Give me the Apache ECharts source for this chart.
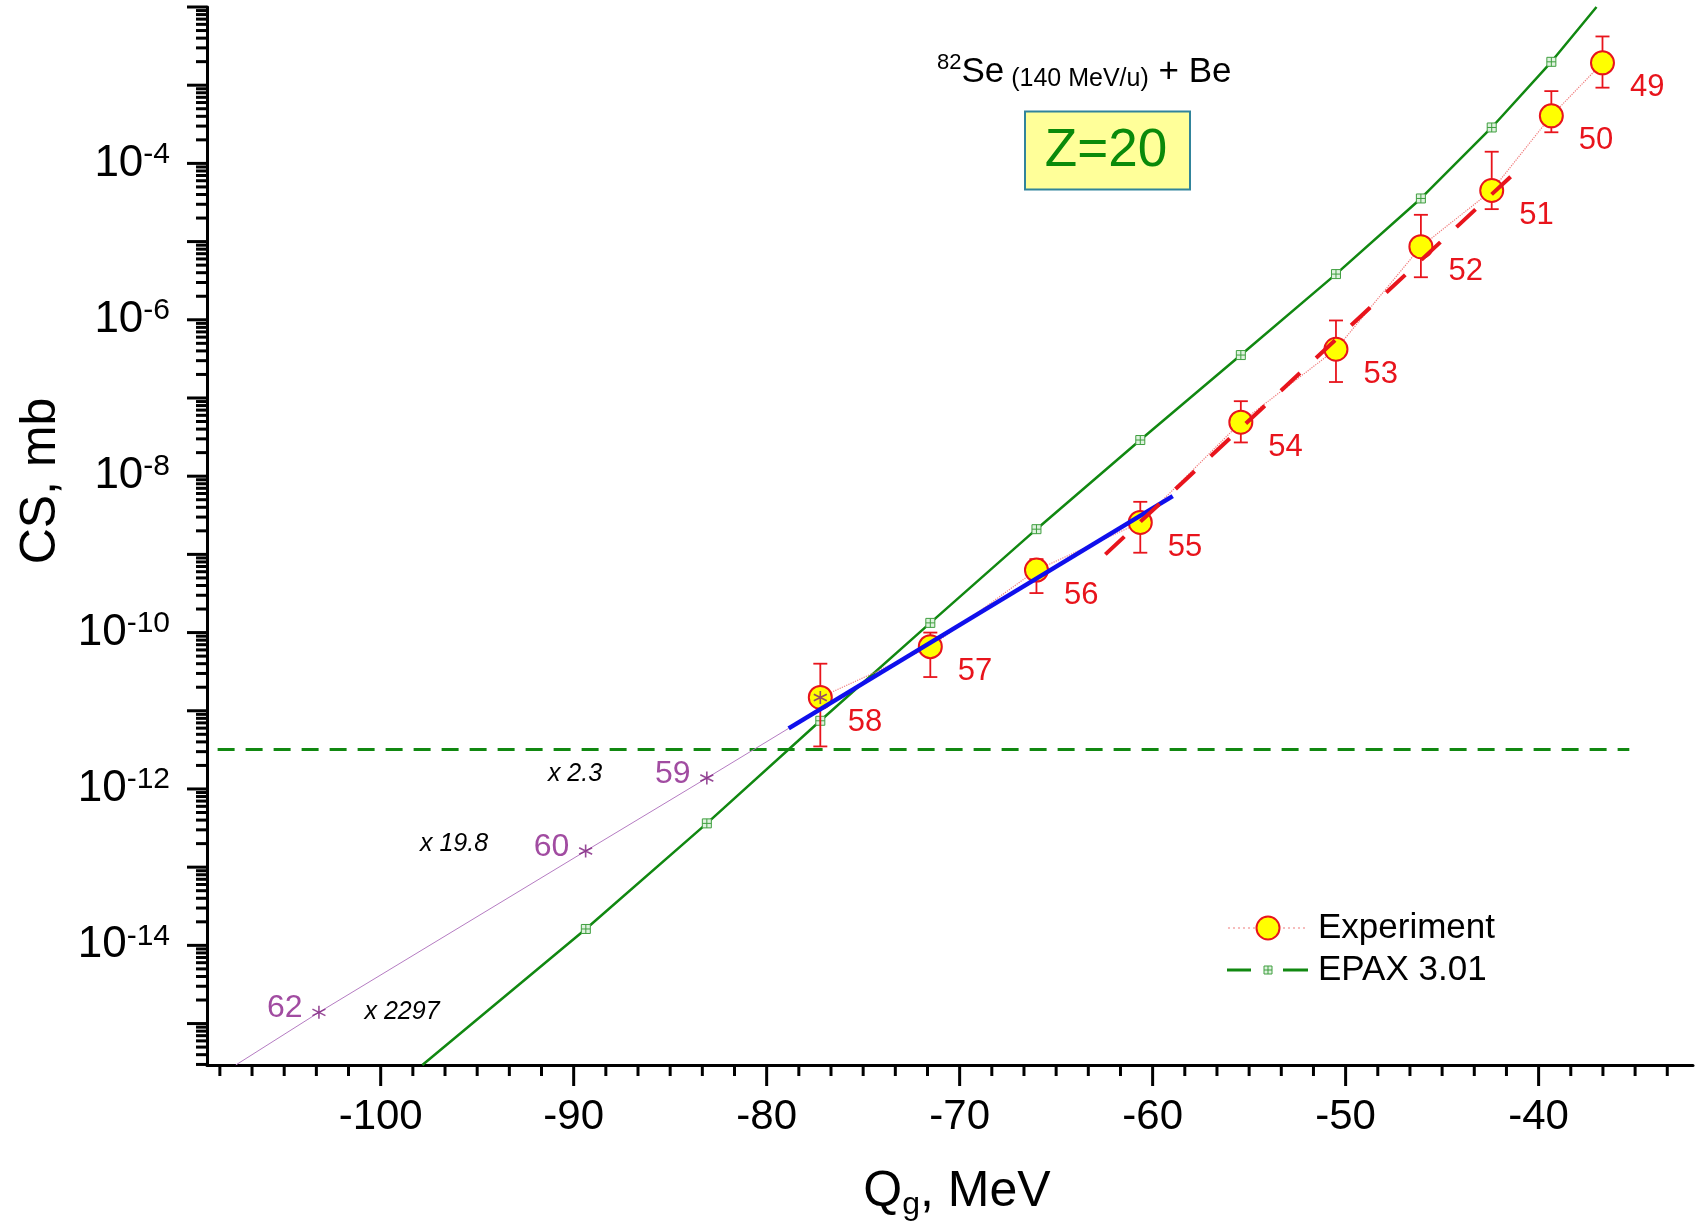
<!DOCTYPE html>
<html>
<head>
<meta charset="utf-8">
<style>
html,body{margin:0;padding:0;background:#fff;}
#chart{width:1696px;height:1232px;}
</style>
<script src="https://cdn.jsdelivr.net/npm/echarts@6/dist/echarts.min.js"></script>
</head>
<body>
<div id="chart"></div>
<script>
// ---- Ca isotopes (Z = 20) from 82Se (140 MeV/u) + Be ----
const massNumbers = [49, 50, 51, 52, 53, 54, 55, 56, 57, 58];
// Qg of each fragment, MeV
const qgExp   = [-36.69, -39.34, -42.43, -46.10, -50.50, -55.43, -60.64, -66.02, -71.52, -77.22];
// measured cross sections and their error limits, mb
const csExp   = [1.93e-3, 4.06e-4, 4.5e-5, 8.6e-6, 4.2e-7, 4.9e-8, 2.56e-9, 6.3e-10, 6.6e-11, 1.48e-11];
const csLow   = [9.3e-4, 2.5e-4, 2.6e-5, 3.5e-6, 1.6e-7, 2.7e-8, 1.05e-9, 3.2e-10, 2.7e-11, 3.5e-12];
const csHigh  = [4.2e-3, 8.4e-4, 1.41e-4, 2.2e-5, 9.8e-7, 9.1e-8, 4.7e-9, 8.7e-10, 1.0e-10, 4.0e-11];

// EPAX 3.01 curve (first and last entries are where it leaves the frame)
const qgEpax  = [-37.0, -39.34, -42.43, -46.10, -50.50, -55.43, -60.64, -66.02, -71.52, -77.22, -83.10, -89.37, -97.84];
const csEpax  = [1.0e-2, 1.99e-3, 2.88e-4, 3.56e-5, 3.84e-6, 3.54e-7, 2.90e-8, 2.10e-9, 1.33e-10, 7.45e-12, 3.63e-13, 1.62e-14, 2.95e-16];

// exponential fit of 55-58 (blue) and its extrapolation to lower Qg (purple)
const fitQg   = [-78.86, -58.96];
const fitCs   = [5.96e-12, 5.57e-9];
const extQg   = [-107.51, -103.2, -89.38, -83.10, -78.86];
const extCs   = [2.95e-16, 1.39e-15, 1.61e-13, 1.38e-12, 5.96e-12];
// extrapolated isotopes
const predMass = [58, 59, 60, 62];
const predQg   = [-77.22, -83.10, -89.38, -103.2];
const predCs   = [1.48e-11, 1.38e-12, 1.61e-13, 1.39e-15];
const predFactor = ['x 2.3', 'x 19.8', 'x 2297'];

// fit of the heavier part 49-55 (red dashed)
const fitRedQg = [-62.45, -40.62];
const fitRedCs = [1.0e-9, 1.05e-4];

// sensitivity limit
const limitQg = [-108.45, -35.3];
const limitCs = 3.2e-12;

// axis ticks
const xTickValues = [-100, -90, -80, -70, -60, -50, -40];
const xTickLabels = ['-100', '-90', '-80', '-70', '-60', '-50', '-40'];
const yLabelExponents = [-14, -12, -10, -8, -6, -4];

const FONT = '"Liberation Sans", Arial, Helvetica, sans-serif';
const X_MIN = -109, X_MAX = -32;
const Y_MIN = Math.pow(10, -15.53), Y_MAX = 1e-2;
const RED = '#e8141c', GREEN = '#118811', PURPLE = '#7d1d7d';
const EPAX_SYMBOL = 'path://M0,0H10V10H0Z M5,0V10 M0,5H10';
const STAR_SYMBOL = 'path://M5,0L5,10M0.67,2.5L9.33,7.5M0.67,7.5L9.33,2.5';

// tick tables: majors every 10 MeV, five minor ticks in between
const xTickData = [];
for (let i = 0; i <= 48; i++) {
  const v = -110 + i * 10 / 6;
  if (v <= X_MIN || v >= X_MAX) continue;
  xTickData.push([+v.toFixed(4), Y_MIN, i % 6 === 0 ? 1 : 0]);
}
const yTickData = [];
for (let e = -16; e <= -2; e++) {
  for (let m = 1; m <= 9; m++) {
    const lg = e + Math.log10(m);
    if (lg < -15.53 - 1e-9 || lg > -2 + 1e-9) continue;
    yTickData.push([X_MIN, m * Math.pow(10, e), m === 1 ? 1 : 0, e]);
  }
}

const chart = echarts.init(document.getElementById('chart'));

chart.setOption({
  animation: false,
  backgroundColor: '#fff',
  grid: { left: 207, right: 3, top: 7, bottom: 167, containLabel: false },
  xAxis: {
    type: 'value', min: X_MIN, max: X_MAX,
    axisLine: { show: true, onZero: false, lineStyle: { color: '#000', width: 3 } },
    axisTick: { show: false }, axisLabel: { show: false }, splitLine: { show: false }
  },
  yAxis: {
    type: 'log', logBase: 10, min: Y_MIN, max: Y_MAX,
    axisLine: { show: true, lineStyle: { color: '#000', width: 3 } },
    axisTick: { show: false }, axisLabel: { show: false }, splitLine: { show: false }
  },
  series: [
    {
      name: 'EPAX 3.01', type: 'line', z: 2,
      data: qgEpax.map((q, i) => ({
        value: [q, csEpax[i]],
        symbol: (i === 0 || i === qgEpax.length - 1) ? 'none' : EPAX_SYMBOL
      })),
      symbolSize: 9, showSymbol: true,
      lineStyle: { color: GREEN, width: 2.5 },
      itemStyle: { color: '#dff2df', borderColor: '#3f9f3f', borderWidth: 1 }
    },
    {
      name: 'limit', type: 'line', z: 2, symbol: 'none',
      data: limitQg.map(q => [q, limitCs]),
      lineStyle: { color: GREEN, width: 3, type: [17, 11] }
    },
    {
      name: 'extrapolation', type: 'line', z: 2, symbol: 'none',
      data: extQg.map((q, i) => [q, extCs[i]]),
      lineStyle: { color: '#b57cc2', width: 1 }
    },
    {
      name: 'errors', type: 'custom', z: 3, silent: true,
      data: qgExp.map((q, i) => [q, csLow[i], csHigh[i]]),
      encode: { x: 0, y: [1, 2] },
      renderItem: function (params, api) {
        const lo = api.coord([api.value(0), api.value(1)]);
        const hi = api.coord([api.value(0), api.value(2)]);
        const w = 7;
        const st = { stroke: RED, lineWidth: 1.8 };
        return {
          type: 'group', children: [
            { type: 'line', shape: { x1: lo[0], y1: lo[1], x2: hi[0], y2: hi[1] }, style: st },
            { type: 'line', shape: { x1: lo[0] - w, y1: lo[1], x2: lo[0] + w, y2: lo[1] }, style: st },
            { type: 'line', shape: { x1: hi[0] - w, y1: hi[1], x2: hi[0] + w, y2: hi[1] }, style: st }
          ]
        };
      }
    },
    {
      name: 'Experiment', type: 'line', z: 4,
      data: qgExp.map((q, i) => [q, csExp[i]]),
      symbol: 'circle', symbolSize: 23,
      lineStyle: { color: '#f07a7a', width: 1.2, type: 'dotted' },
      itemStyle: { color: '#ffff00', borderColor: RED, borderWidth: 2 },
      label: {
        show: true, position: 'right', distance: 15, offset: [0, 25],
        formatter: p => String(massNumbers[p.dataIndex]),
        color: RED, fontSize: 31, fontFamily: FONT
      }
    },
    {
      name: 'fit 55-58', type: 'line', z: 5, symbol: 'none',
      data: fitQg.map((q, i) => [q, fitCs[i]]),
      lineStyle: { color: '#0f0fec', width: 4.5 }
    },
    {
      name: 'fit 49-55', type: 'line', z: 5, symbol: 'none',
      data: fitRedQg.map((q, i) => [q, fitRedCs[i]]),
      lineStyle: { color: RED, width: 4, type: [26, 22] }
    },
    {
      name: 'predicted', type: 'scatter', z: 6,
      data: predQg.map((q, i) => ({
        value: [q, predCs[i]],
        label: { show: i > 0 }
      })),
      symbol: STAR_SYMBOL, symbolSize: 13,
      itemStyle: { color: 'rgba(0,0,0,0)', borderColor: PURPLE, borderWidth: 1.6 },
      label: {
        position: 'left', distance: 9, offset: [0, -4],
        formatter: p => String(predMass[p.dataIndex]),
        color: '#8a1f8a', fontSize: 32, fontFamily: FONT
      }
    },
    {
      name: 'xTicks', type: 'custom', z: 7, silent: true, clip: false,
      data: xTickData, encode: { x: 0, y: 1 },
      renderItem: function (params, api) {
        const p = api.coord([api.value(0), api.value(1)]);
        const major = api.value(2) === 1;
        const len = major ? 21 : 11;
        const children = [{
          type: 'line', shape: { x1: p[0], y1: p[1], x2: p[0], y2: p[1] + len },
          style: { stroke: '#000', lineWidth: 3 }
        }];
        const k = xTickValues.indexOf(Math.round(api.value(0)));
        if (major && k >= 0) {
          children.push({
            type: 'text',
            style: {
              text: xTickLabels[k], x: p[0], y: p[1] + 52,
              align: 'center', verticalAlign: 'middle',
              fontSize: 42, fontFamily: FONT, fill: '#000'
            }
          });
        }
        return { type: 'group', children: children };
      }
    },
    {
      name: 'yTicks', type: 'custom', z: 7, silent: true, clip: false,
      data: yTickData, encode: { x: 0, y: 1 },
      renderItem: function (params, api) {
        const p = api.coord([api.value(0), api.value(1)]);
        const major = api.value(2) === 1;
        const len = major ? 20 : 11;
        const children = [{
          type: 'line', shape: { x1: p[0] - len, y1: p[1], x2: p[0], y2: p[1] },
          style: { stroke: '#000', lineWidth: 3 }
        }];
        const e = api.value(3);
        if (major && yLabelExponents.indexOf(e) >= 0) {
          children.push({
            type: 'text',
            style: {
              text: '{b|10}{s|' + e + '}', x: p[0] - 37, y: p[1],
              align: 'right', verticalAlign: 'middle', fill: '#000',
              rich: {
                b: { fontSize: 44, fontFamily: FONT, lineHeight: 48, verticalAlign: 'middle', fill: '#000' },
                s: { fontSize: 30, fontFamily: FONT, lineHeight: 22, verticalAlign: 'top', fill: '#000' }
              }
            }
          });
        }
        return { type: 'group', children: children };
      }
    }
  ],
  graphic: {
    elements: [
      // axis titles
      {
        type: 'text', x: 41, y: 481, rotation: Math.PI / 2,
        style: { text: 'CS, mb', fontSize: 50, fontFamily: FONT, fill: '#000', align: 'center', verticalAlign: 'middle' }
      },
      {
        type: 'text', x: 957, y: 1192,
        style: {
          text: '{q|Q}{g|g}{r|, MeV}', align: 'center', verticalAlign: 'middle', fill: '#000',
          rich: {
            q: { fontSize: 50, fontFamily: FONT, lineHeight: 58, verticalAlign: 'middle', fill: '#000' },
            g: { fontSize: 32, fontFamily: FONT, lineHeight: 18, verticalAlign: 'bottom', fill: '#000' },
            r: { fontSize: 50, fontFamily: FONT, lineHeight: 58, verticalAlign: 'middle', fill: '#000' }
          }
        }
      },
      // reaction
      {
        type: 'text', x: 937, y: 72,
        style: {
          text: '{sup|82}{big|Se}{small| (140 MeV/u)}{big| + Be}', align: 'left', verticalAlign: 'middle', fill: '#000',
          rich: {
            sup: { fontSize: 22, fontFamily: FONT, lineHeight: 15, verticalAlign: 'top', fill: '#000' },
            big: { fontSize: 35, fontFamily: FONT, lineHeight: 40, verticalAlign: 'middle', fill: '#000' },
            small: { fontSize: 25, fontFamily: FONT, lineHeight: 33, verticalAlign: 'bottom', fill: '#000' }
          }
        }
      },
      // element box
      {
        type: 'rect', shape: { x: 1025, y: 111.5, width: 165, height: 78 },
        style: { fill: '#ffff99', stroke: '#31849b', lineWidth: 2 }
      },
      {
        type: 'text', x: 1106, y: 151,
        style: { text: 'Z=20', fontSize: 53, fontFamily: FONT, fill: '#0a8a0a', align: 'center', verticalAlign: 'middle' }
      },
      // legend
      {
        type: 'line', shape: { x1: 1228, y1: 928, x2: 1308, y2: 928 },
        style: { stroke: '#f07a7a', lineWidth: 1.2, lineDash: [2, 3] }
      },
      {
        type: 'circle', shape: { cx: 1268, cy: 928, r: 11.5 },
        style: { fill: '#ffff00', stroke: RED, lineWidth: 2 }
      },
      {
        type: 'text', x: 1318, y: 928,
        style: { text: 'Experiment', fontSize: 35, fontFamily: FONT, fill: '#000', align: 'left', verticalAlign: 'middle' }
      },
      {
        type: 'line', shape: { x1: 1227, y1: 970, x2: 1251, y2: 970 },
        style: { stroke: GREEN, lineWidth: 3 }
      },
      {
        type: 'line', shape: { x1: 1283, y1: 970, x2: 1308, y2: 970 },
        style: { stroke: GREEN, lineWidth: 3 }
      },
      {
        type: 'rect', shape: { x: 1264, y: 966, width: 8, height: 8 },
        style: { fill: '#dff2df', stroke: '#3f9f3f', lineWidth: 1 }
      },
      {
        type: 'line', shape: { x1: 1268, y1: 966, x2: 1268, y2: 974 },
        style: { stroke: '#3f9f3f', lineWidth: 1 }
      },
      {
        type: 'line', shape: { x1: 1264, y1: 970, x2: 1272, y2: 970 },
        style: { stroke: '#3f9f3f', lineWidth: 1 }
      },
      {
        type: 'text', x: 1318, y: 970,
        style: { text: 'EPAX 3.01', fontSize: 35, fontFamily: FONT, fill: '#000', align: 'left', verticalAlign: 'middle' }
      },
      // enhancement factors of the extrapolated isotopes
      {
        type: 'text', x: 575, y: 774,
        style: { text: predFactor[0], fontSize: 25, fontStyle: 'italic', fontFamily: FONT, fill: '#000', align: 'center', verticalAlign: 'middle' }
      },
      {
        type: 'text', x: 454, y: 844,
        style: { text: predFactor[1], fontSize: 25, fontStyle: 'italic', fontFamily: FONT, fill: '#000', align: 'center', verticalAlign: 'middle' }
      },
      {
        type: 'text', x: 402, y: 1012,
        style: { text: predFactor[2], fontSize: 25, fontStyle: 'italic', fontFamily: FONT, fill: '#000', align: 'center', verticalAlign: 'middle' }
      }
    ]
  }
});
</script>
</body>
</html>
